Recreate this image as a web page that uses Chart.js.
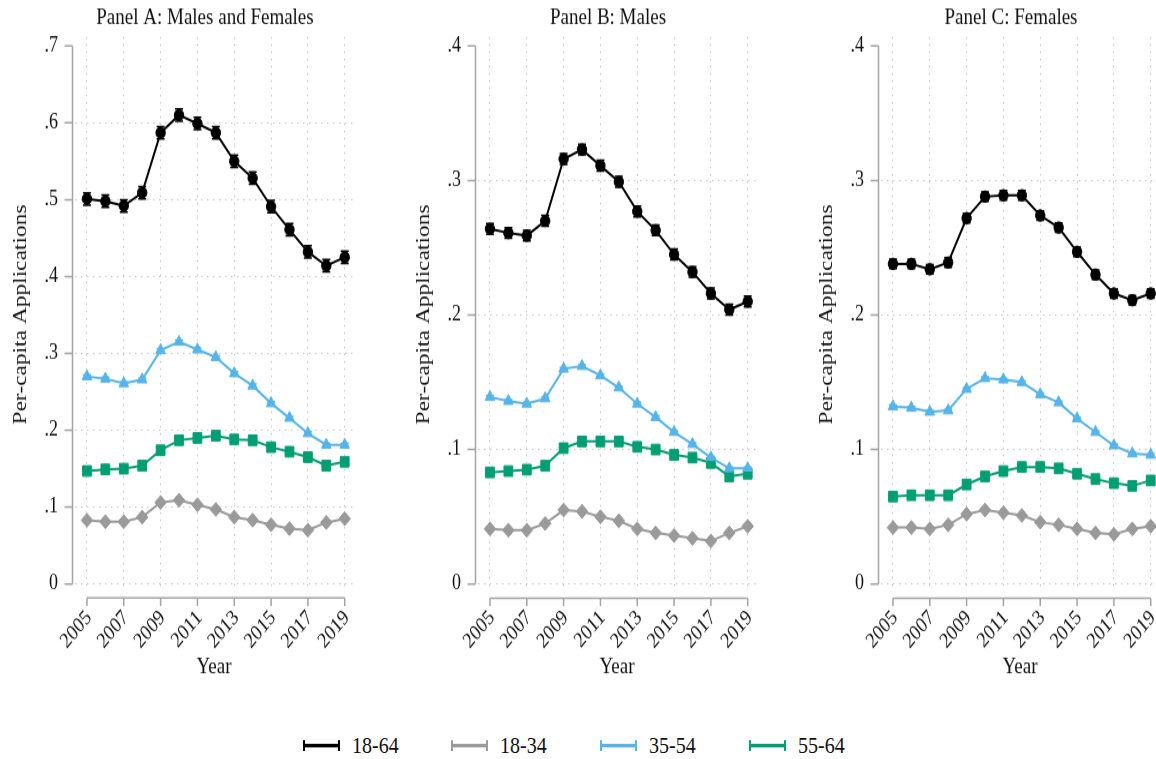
<!DOCTYPE html>
<html>
<head>
<meta charset="utf-8">
<script src="https://cdn.jsdelivr.net/npm/chart.js@4.4.0/dist/chart.umd.min.js"></script>
<style>
  html, body { margin: 0; padding: 0; background: #fff; width: 1156px; height: 759px; overflow: hidden; font-family: 'Liberation Serif', serif; }
  .panel { position: absolute; top: 0; width: 403px; height: 584px; transform: scaleY(1.2); transform-origin: 0 0; }
  .panel canvas { display: block; }
  #legend { position: absolute; left: 0; top: 733px; width: 1156px; height: 24px; transform: scaleY(1.2); transform-origin: 0 50%; }
  .item { position: absolute; top: 0; height: 24px; display: flex; align-items: center; font-size: 20px; color: #111; }
  .sym { display: inline-block; width: 33px; height: 9px; border-left: 2.5px solid; border-right: 2.5px solid; position: relative; margin-right: 12px; }
  .sym::before { content: ''; position: absolute; left: 0; right: 0; top: 3.5px; height: 2.5px; background: currentColor; }
</style>
</head>
<body>
<div class="panel" style="left:0px"><canvas id="panelA" width="403" height="584"></canvas></div>
<div class="panel" style="left:403px"><canvas id="panelB" width="403" height="584"></canvas></div>
<div class="panel" style="left:806px"><canvas id="panelC" width="403" height="584"></canvas></div>
<div id="legend"></div>

<script>
const years = [2005, 2006, 2007, 2008, 2009, 2010, 2011, 2012, 2013, 2014, 2015, 2016, 2017, 2018, 2019];
const yearTicks = [2005, 2007, 2009, 2011, 2013, 2015, 2017, 2019];
const groups = ['18-64', '18-34', '35-54', '55-64'];
const colors = ['#000000', '#9a9a9a', '#56b4e9', '#009e73'];

// Panel A: Males and Females
const a1864 = [0.501, 0.498, 0.492, 0.509, 0.587, 0.610, 0.599, 0.587, 0.550, 0.528, 0.491, 0.461, 0.432, 0.414, 0.425];
const a1834 = [0.083, 0.081, 0.081, 0.087, 0.106, 0.109, 0.103, 0.097, 0.087, 0.083, 0.077, 0.072, 0.070, 0.080, 0.085];
const a3554 = [0.270, 0.267, 0.261, 0.266, 0.304, 0.315, 0.305, 0.295, 0.274, 0.258, 0.235, 0.216, 0.196, 0.181, 0.181];
const a5564 = [0.147, 0.149, 0.150, 0.154, 0.174, 0.187, 0.190, 0.193, 0.188, 0.187, 0.178, 0.172, 0.165, 0.154, 0.159];
const aTicks = [0, 0.1, 0.2, 0.3, 0.4, 0.5, 0.6, 0.7];
const aCi = [0.008, 0.002, 0.002, 0.002];

// Panel B: Males
const b1864 = [0.264, 0.261, 0.259, 0.270, 0.316, 0.323, 0.311, 0.299, 0.277, 0.263, 0.245, 0.232, 0.216, 0.204, 0.210];
const b1834 = [0.041, 0.040, 0.040, 0.045, 0.055, 0.054, 0.050, 0.047, 0.041, 0.038, 0.036, 0.034, 0.032, 0.038, 0.043];
const b3554 = [0.139, 0.136, 0.134, 0.138, 0.160, 0.162, 0.155, 0.146, 0.134, 0.124, 0.113, 0.104, 0.094, 0.086, 0.086];
const b5564 = [0.083, 0.084, 0.085, 0.088, 0.101, 0.106, 0.106, 0.106, 0.102, 0.100, 0.096, 0.094, 0.090, 0.080, 0.082];
const bTicks = [0, 0.1, 0.2, 0.3, 0.4];
const bCi = [0.004, 0.001, 0.001, 0.001];

// Panel C: Females
const c1864 = [0.238, 0.238, 0.234, 0.239, 0.272, 0.288, 0.289, 0.289, 0.274, 0.265, 0.247, 0.230, 0.216, 0.211, 0.216];
const c1834 = [0.042, 0.042, 0.041, 0.044, 0.052, 0.055, 0.053, 0.051, 0.046, 0.044, 0.041, 0.038, 0.037, 0.041, 0.043];
const c3554 = [0.132, 0.131, 0.128, 0.129, 0.145, 0.153, 0.152, 0.150, 0.141, 0.135, 0.123, 0.113, 0.103, 0.097, 0.096];
const c5564 = [0.065, 0.066, 0.066, 0.066, 0.074, 0.080, 0.084, 0.087, 0.087, 0.086, 0.082, 0.078, 0.075, 0.073, 0.077];
const cTicks = [0, 0.1, 0.2, 0.3, 0.4];
const cCi = [0.0035, 0.001, 0.001, 0.001];

const FONT = 'Liberation Serif';
const TEXT = '#111111';
const H = 584;
const markers = [
  { style: 'circle', r: 4.7 },
  { style: 'rectRot', r: 5.8 },
  { style: 'triangle', r: 5.5 },
  { style: 'rect', r: 6.2 }
];

// stata-like offset axes, panel title and capped error bars
const stataPlugin = {
  id: 'stataAxes',
  beforeDatasetsDraw(chart, args, opts) {
    const { ctx, chartArea, scales: { x, y } } = chart;
    const ticks = opts.yTicks;
    const ax = chartArea.left - 2.5;
    const ay = y.getPixelForValue(0) + 11.7;
    ctx.save();
    ctx.strokeStyle = '#a3a3a3';
    ctx.lineWidth = 1.5;
    ctx.beginPath();
    ctx.moveTo(ax, y.getPixelForValue(ticks[0]));
    ctx.lineTo(ax, y.getPixelForValue(ticks[ticks.length - 1]));
    ticks.forEach(v => {
      const py = y.getPixelForValue(v);
      ctx.moveTo(ax - 8, py);
      ctx.lineTo(ax, py);
    });
    ctx.moveTo(x.getPixelForValue(years[0]), ay);
    ctx.lineTo(x.getPixelForValue(years[years.length - 1]), ay);
    yearTicks.forEach(v => {
      const px = x.getPixelForValue(v);
      ctx.moveTo(px, ay);
      ctx.lineTo(px, ay + 6.7);
    });
    ctx.stroke();

    ctx.fillStyle = TEXT;
    ctx.font = `19px "${FONT}"`;
    ctx.textAlign = 'center';
    ctx.textBaseline = 'middle';
    ctx.fillText(opts.title, 205, 15.5);
    ctx.restore();
  },
  afterDatasetsDraw(chart, args, opts) {
    const { ctx, scales: { x, y } } = chart;
    ctx.save();
    ctx.lineWidth = 1.5;
    chart.data.datasets.forEach((ds, i) => {
      const ci = opts.ci[i];
      ctx.strokeStyle = ds.borderColor;
      ctx.beginPath();
      ds.data.forEach(p => {
        const px = x.getPixelForValue(p.x);
        const top = y.getPixelForValue(p.y + ci);
        const bot = y.getPixelForValue(p.y - ci);
        ctx.moveTo(px, top); ctx.lineTo(px, bot);
        ctx.moveTo(px - 4, top); ctx.lineTo(px + 4, top);
        ctx.moveTo(px - 4, bot); ctx.lineTo(px + 4, bot);
      });
      ctx.stroke();
    });
    ctx.restore();
  }
};

function tickLabel(v) {
  if (v === 0) return '0';
  return String(Number(v.toFixed(1))).replace(/^0\./, '.');
}

function makeChart(id, title, series, ci, yTicks, yMin, yMax) {
  const top = yTicks[yTicks.length - 1];
  return new Chart(document.getElementById(id), {
    type: 'line',
    data: {
      datasets: series.map((vals, i) => ({
        label: groups[i],
        data: years.map((yr, j) => ({ x: yr, y: vals[j] })),
        borderColor: colors[i],
        backgroundColor: colors[i],
        borderWidth: 2,
        tension: 0,
        pointStyle: markers[i].style,
        pointRadius: markers[i].r,
        pointBorderWidth: 1,
        pointBorderColor: colors[i],
        pointBackgroundColor: colors[i]
      }))
    },
    options: {
      responsive: false,
      animation: false,
      devicePixelRatio: 1,
      layout: { padding: { left: 0, right: 50, top: 30.8, bottom: 0 } },
      plugins: {
        legend: { display: false },
        tooltip: { enabled: false },
        title: { display: false },
        stataAxes: { yTicks: yTicks, ci: ci, title: title }
      },
      scales: {
        x: {
          type: 'linear', min: 2004.35, max: 2019.45,
          afterBuildTicks: s => { s.ticks = yearTicks.map(v => ({ value: v })); },
          afterFit: s => { s.height = H - 493.3 - 30.8 + 30.8; },
          grid: { color: '#c6c6c6', lineWidth: 1, drawTicks: false },
          border: { display: false, dash: [1.5, 4.5] },
          ticks: {
            color: TEXT, font: { family: FONT, size: 18 }, padding: 11,
            minRotation: 45, maxRotation: 45, autoSkip: false, labelOffset: 2,
            callback: v => String(v)
          },
          title: {
            display: true, text: 'Year', color: TEXT,
            font: { family: FONT, size: 19 }, padding: { top: 0, bottom: 16.8 }
          }
        },
        y: {
          min: yMin, max: yMax,
          afterBuildTicks: s => { s.ticks = yTicks.map(v => ({ value: v })); },
          afterFit: s => { s.width = 75; },
          grid: {
            color: c => (c.tick && c.tick.value === top) ? 'rgba(0,0,0,0)' : '#c6c6c6',
            lineWidth: 1, drawTicks: false
          },
          border: { display: false, dash: [1.5, 4.5] },
          ticks: { color: TEXT, font: { family: FONT, size: 18 }, padding: 17, callback: tickLabel },
          title: {
            display: true, text: 'Per-capita Applications', color: TEXT,
            font: { family: FONT, size: 19.5 }, padding: { top: 9.3, bottom: 0 }
          }
        }
      }
    },
    plugins: [stataPlugin]
  });
}

makeChart('panelA', 'Panel A: Males and Females', [a1864, a1834, a3554, a5564], aCi, aTicks, -0.0104, 0.7117);
makeChart('panelB', 'Panel B: Males', [b1864, b1834, b3554, b5564], bCi, bTicks, -0.0059, 0.4067);
makeChart('panelC', 'Panel C: Females', [c1864, c1834, c3554, c5564], cCi, cTicks, -0.0059, 0.4067);

// legend with error-bar style keys
const legendLeft = [303, 451, 600, 749];
const legend = document.getElementById('legend');
groups.forEach((g, i) => {
  const item = document.createElement('div');
  item.className = 'item';
  item.style.left = legendLeft[i] + 'px';
  item.innerHTML = `<span class="sym" style="color:${colors[i]}"></span><span>${g}</span>`;
  legend.appendChild(item);
});
</script>
</body>
</html>
